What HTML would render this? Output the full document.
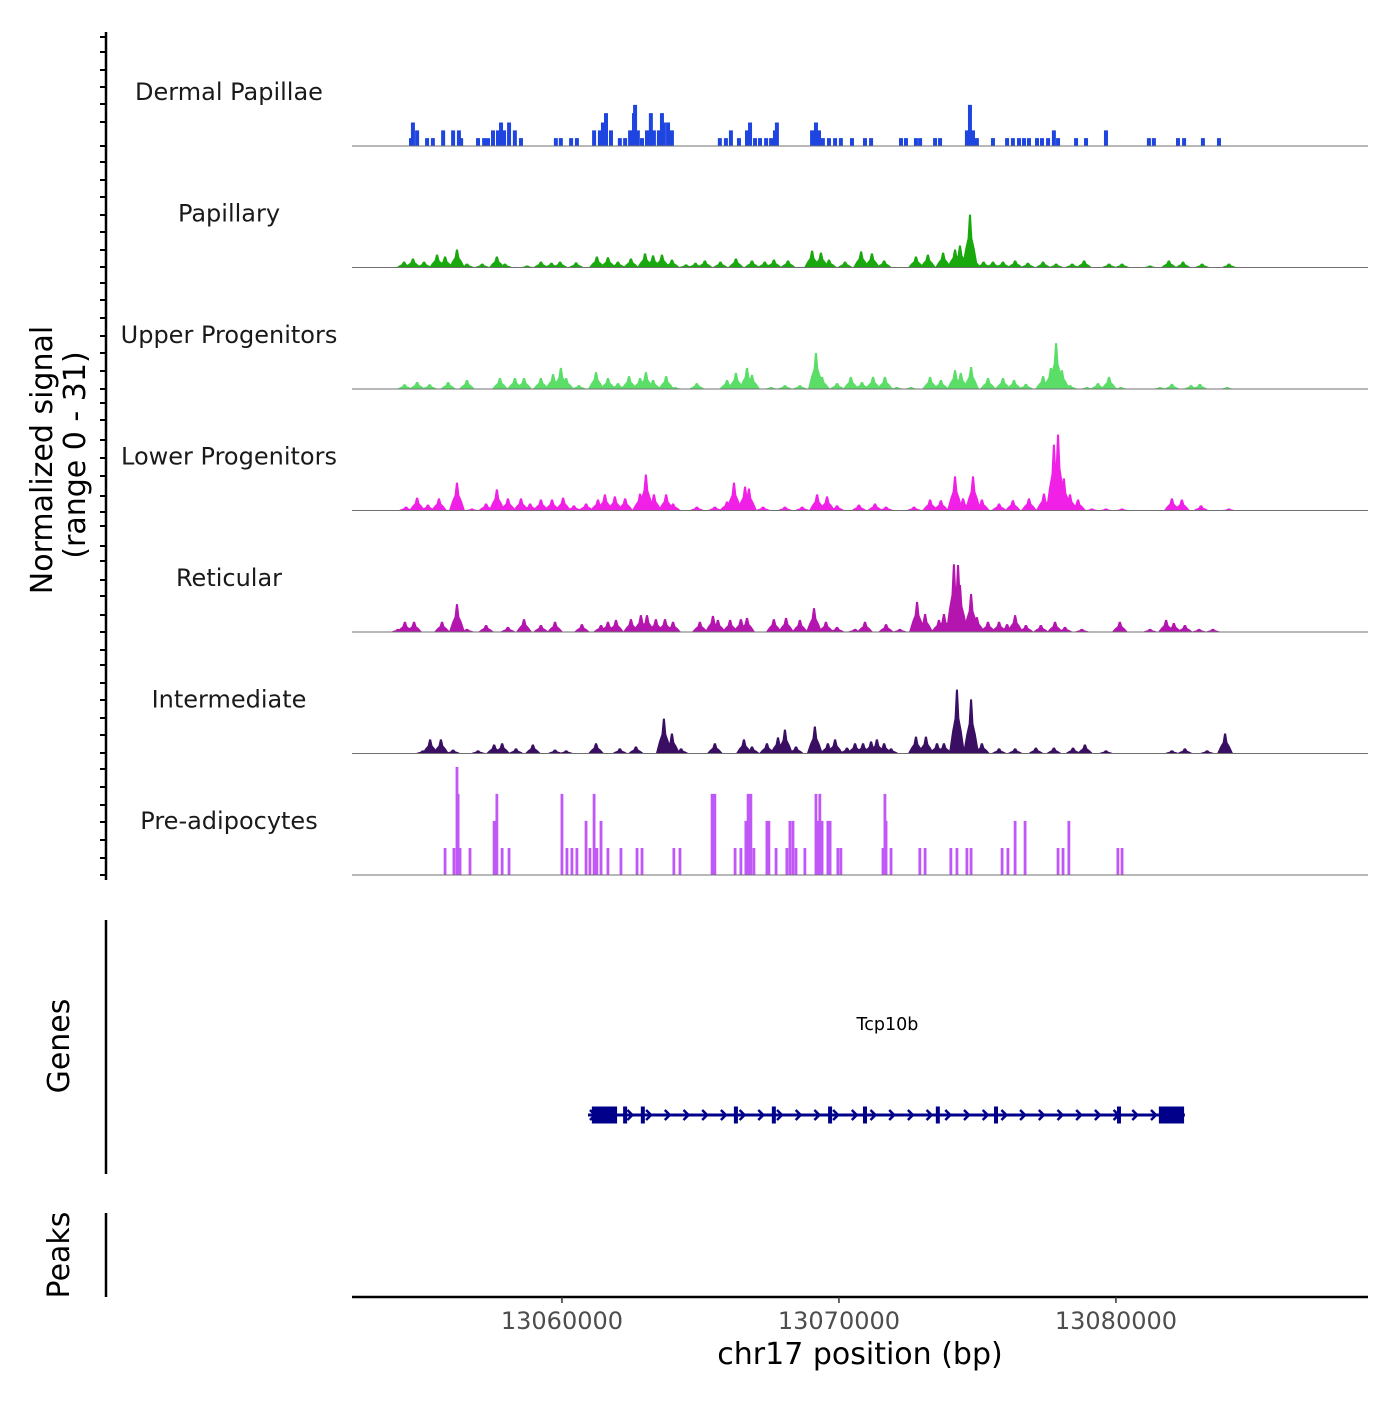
<!DOCTYPE html>
<html><head><meta charset="utf-8"><style>
html,body{margin:0;padding:0;background:#fff;}
svg text{font-family:"DejaVu Sans","Liberation Sans",sans-serif;}
</style></head><body>
<svg id="chart" width="1400" height="1400" viewBox="0 0 1400 1400" xmlns="http://www.w3.org/2000/svg">
<rect width="1400" height="1400" fill="#fff"/>
<g id="tracks"></g>
<g id="yaxis">
<line x1="106" y1="32" x2="106" y2="880" stroke="#000" stroke-width="2.5"/>
</g>
<text transform="translate(52,460) rotate(-90)" text-anchor="middle" font-size="30">Normalized signal</text>
<text transform="translate(85,455) rotate(-90)" text-anchor="middle" font-size="30">(range 0 - 31)</text>
<g>
<line x1="106" y1="920" x2="106" y2="1174" stroke="#000" stroke-width="2.5"/>
<text transform="translate(69,1046) rotate(-90)" text-anchor="middle" font-size="30">Genes</text>
<g id="gene"></g>
</g>
<g>
<line x1="106" y1="1213" x2="106" y2="1297" stroke="#000" stroke-width="2.5"/>
<text transform="translate(69,1255) rotate(-90)" text-anchor="middle" font-size="30">Peaks</text>
</g>
<g id="xaxis">
<line x1="352" y1="1297" x2="1368" y2="1297" stroke="#000" stroke-width="2.5"/>
</g>
<text x="860" y="1364" text-anchor="middle" font-size="30">chr17 position (bp)</text>
</svg>
<script>
// ---- data (positions in kb from region start, values in normalized signal units) ----
const regionStartBp = 13052420;
const regionEndBp = 13089100;
const xTicks = [13060000, 13070000, 13080000];
const trackNames = ["Dermal Papillae","Papillary","Upper Progenitors","Lower Progenitors","Reticular","Intermediate","Pre-adipocytes"];
const trackColors = ["#1f45e0","#1aa80f","#5ade68","#f020e6","#b415ae","#3a0e62","#c058f8"];
const signalMax = 31;

const dermalPos = [2.20,2.35,2.13,2.71,2.92,3.29,3.65,3.86,3.94,4.55,4.77,4.91,5.09,5.27,5.38,5.49,5.67,5.88,6.10,7.36,7.54,7.91,8.12,8.74,8.95,9.06,9.17,9.35,9.67,9.86,10.04,10.18,10.22,10.32,10.47,10.65,10.79,10.90,11.08,11.19,11.26,11.41,11.55,13.28,13.50,13.68,13.97,14.26,14.37,14.55,14.73,14.95,15.13,15.27,15.34,16.61,16.75,16.86,17.00,17.22,17.44,17.65,18.05,18.52,18.74,19.82,20.00,20.36,20.51,21.05,21.23,22.20,22.31,22.42,22.56,23.14,23.65,23.86,24.08,24.26,24.44,24.73,24.91,25.13,25.34,25.49,26.14,26.50,27.22,28.77,28.95,29.82,30.04,30.72,31.30];
const dermalVal = [6,4,2,2,2,4,4,4,2,2,2,2,4,4,6,4,6,4,2,2,2,2,2,4,4,6,8.4,4,2,2,4,8.4,10.5,4,2,4,8.4,4,4,8.4,6,6,4,2,2,4,2,4,6,2,2,2,2,4,6,4,6,4,2,2,2,2,2,2,2,2,2,2,2,2,2,4,10.5,4,2,2,2,2,2,2,2,2,2,2,4,2,2,2,4,2,2,2,2,2,2];

const papPos = [1.88,2.20,2.60,3.07,3.36,3.79,4.15,4.70,5.23,5.52,6.32,6.82,7.20,7.51,8.09,8.84,9.24,9.60,10.07,10.58,10.87,11.19,11.55,12.06,12.40,12.74,13.30,13.86,14.44,14.90,15.23,15.74,16.61,16.93,17.22,17.80,18.38,18.77,19.21,20.36,20.79,21.34,21.77,21.95,22.31,22.42,22.80,23.14,23.50,23.94,24.40,24.95,25.42,26.00,26.43,27.33,27.80,28.81,29.49,30.00,30.69,31.66];
const papVal = [1.5,2.3,1.5,3.3,2.8,4.6,1,1,2.8,1,0.5,1.5,1.2,1.5,1.3,2.8,2.6,1.5,2.3,3.6,3.1,3.3,2,0.8,1.2,1.8,1.5,2.3,1.8,1.5,2,1.8,4.3,3.8,2,1.5,4.1,3.6,1.8,2.8,3.3,3.8,4.6,5.6,13.5,3.1,1.5,1.5,1.5,1.8,1.2,1.5,1,1,1.8,1,1,0.5,1.8,1.5,1,1];

const upPos = [1.90,2.35,2.80,3.47,4.15,5.34,5.88,6.21,6.82,7.26,7.54,7.73,8.19,8.81,9.24,9.60,10.00,10.40,10.61,10.87,11.34,11.66,12.45,13.54,13.86,14.26,14.44,15.13,15.63,16.17,16.75,16.97,17.51,18.01,18.41,18.81,19.24,19.67,20.18,20.87,21.26,21.77,21.98,22.35,22.96,23.50,23.90,24.33,24.95,25.23,25.42,25.63,25.92,26.53,26.93,27.33,27.76,29.17,29.60,30.29,30.61,31.59];
const upVal = [1.2,1.8,1.2,1.8,2.3,2.8,2.8,2.8,2.8,3.8,5.4,2.8,1,4.3,2.8,1.5,3.3,2.8,4.3,2.3,3.3,0.5,1.5,2.3,4.1,5.4,3.6,0.5,1,1,9.2,3.1,1.5,3.1,1.8,3.1,3.1,0.5,0.5,3.1,2.3,4.8,4.1,5.6,2.8,2.8,2.3,1.3,3.3,5.4,11.7,4.8,1,0.5,1.5,3.1,0.5,0.5,1.3,1,1.3,0.5];

const lowPos = [1.95,2.35,2.74,3.14,3.79,4.33,4.84,5.23,5.63,6.10,6.43,6.82,7.22,7.62,8.01,8.45,8.88,9.13,9.49,9.86,10.40,10.61,10.90,11.34,11.59,12.45,13.10,13.54,13.79,14.19,14.33,14.84,15.63,16.25,16.79,17.15,17.51,18.30,18.88,19.28,20.29,20.87,21.26,21.77,22.06,22.42,22.74,23.36,23.86,24.44,24.98,25.34,25.49,25.70,25.92,26.21,26.71,27.22,27.80,29.60,29.96,30.65,31.66];
const lowVal = [1,3.3,1.5,3.1,7.1,0.5,1.8,5.4,3.1,3.1,1.8,2.8,2.8,3.3,1.3,1.8,2.8,4.1,3.6,3.1,4.3,9.2,4.1,4.1,1.8,1,1,2.3,7.1,6.1,5.6,1,1,1,4.1,3.6,1.3,1.5,1.8,1,1,2.8,2.6,8.7,3.1,8.7,2.8,1.8,2.6,3.1,4.3,16.8,19.4,8.2,4.1,2.8,0.5,0.5,0.5,3.1,2.8,1.3,0.5];

const retPos = [1.66,1.91,2.24,3.25,3.79,4.15,4.84,5.63,6.21,6.82,7.33,8.30,8.99,9.24,9.53,10.07,10.43,10.65,10.97,11.30,11.59,12.56,13.03,13.21,13.65,14.04,14.26,15.23,15.67,16.17,16.68,17.11,17.51,18.16,18.52,19.28,19.78,20.40,20.69,21.19,21.37,21.73,21.88,21.95,22.35,22.56,22.96,23.36,23.65,23.94,24.33,24.87,25.38,25.74,26.35,27.72,28.81,29.39,29.67,30.07,30.58,31.08];
const retVal = [0.8,2.6,2.6,2.6,7.1,0.8,1.8,1.3,3.3,1.8,2.6,2,1.8,2.6,3.1,3.3,4.3,4.3,3.3,3.3,2.6,2.6,4.1,3.1,3.1,3.3,3.6,3.3,3.6,3.1,6.1,2.6,1.3,0.8,2.6,2,0.8,7.7,4.6,3.1,4.6,17.3,17.1,12,9.7,3.8,2.6,2.6,2,4.3,1.8,1.8,2.6,1.3,0.8,2.6,0.8,3.1,2.3,1.8,0.8,0.8];

const intPos = [2.56,2.82,3.21,3.65,4.55,5.13,5.42,5.92,6.53,7.33,7.73,8.81,9.67,10.25,11.26,11.55,11.88,13.10,14.15,14.44,14.98,15.38,15.63,16.03,16.71,17.18,17.44,17.87,18.16,18.45,18.74,18.95,19.21,19.46,20.36,20.72,21.12,21.37,21.84,22.35,22.74,23.36,23.94,24.69,25.34,26.03,26.46,27.22,29.60,30.07,30.87,31.52];
const intVal = [0.8,3.6,3.6,1,0.8,2.3,2.6,1.3,2.3,1,0.8,2.6,1.3,1.8,8.9,5.1,1.3,2.6,3.6,1.8,2.6,4.1,6.1,1.8,6.9,2.6,3.6,1.5,2.6,2.6,3.1,3.6,2.6,1.3,4.3,4.3,2.6,2.6,16.3,13.8,2.6,1.3,1.3,1.5,1.5,1.5,2.3,0.8,0.8,1.3,0.8,5.1];

const prePos = [3.36,3.68,3.79,3.83,3.90,4.26,5.13,5.23,5.42,5.67,7.58,7.76,7.94,8.12,8.45,8.59,8.74,8.84,8.99,9.24,9.71,10.29,10.47,11.62,11.84,13.00,13.10,13.83,14.04,14.22,14.30,14.40,14.51,14.98,15.05,15.31,15.70,15.81,15.92,16.03,16.35,16.75,16.79,16.89,16.97,17.18,17.26,17.54,17.65,19.17,19.24,19.28,19.46,20.50,20.69,21.62,21.84,22.20,22.35,23.47,23.68,23.94,24.30,25.49,25.67,25.88,27.65,27.80];
const preVal = [6.9,6.9,27.6,20.7,6.9,6.9,13.8,20.7,6.9,6.9,20.7,6.9,6.9,6.9,13.8,6.9,20.7,6.9,13.8,6.9,6.9,6.9,6.9,6.9,6.9,20.7,20.7,6.9,6.9,13.8,20.7,20.7,6.9,13.8,13.8,6.9,6.9,13.8,13.8,6.9,6.9,20.7,13.8,20.7,13.8,13.8,13.8,6.9,6.9,6.9,20.7,13.8,6.9,6.9,6.9,6.9,6.9,6.9,6.9,6.9,6.9,13.8,13.8,6.9,6.9,13.8,6.9,6.9];

const geneName = "Tcp10b";
const geneStartKb = 8.52, geneEndKb = 30.07;
const bigExonStarts = [8.66, 29.13];
const bigExonEnds = [9.57, 30.04];
const smallExons = [9.86, 10.50, 13.86, 15.23, 17.26, 18.52, 21.15, 23.25, 27.69];

// ---- scales ----
const plotL = 352, plotR = 1368;
const spanKb = (regionEndBp - regionStartBp) / 1000;
function xKb(kb){ return plotL + kb / spanKb * (plotR - plotL); }
function xBp(bp){ return xKb((bp - regionStartBp) / 1000); }
const baseTop = 24.5, trackH = 121.5;
function baseY(i){ return baseTop + trackH * (i + 1); }
function yVal(i, v){ return baseY(i) - v / signalMax * trackH; }

const NS = "http://www.w3.org/2000/svg";
const tracksG = document.getElementById("tracks");
const allPos = [dermalPos, papPos, upPos, lowPos, retPos, intPos, prePos];
const allVal = [dermalVal, papVal, upVal, lowVal, retVal, intVal, preVal];
const styles = ["bar","smooth","smooth","smooth","smooth","smooth","bar"];

for (let i = 0; i < trackNames.length; i++) {
  const g = document.createElementNS(NS, "g");
  
  
  tracksG.appendChild(g);
  const lbl = document.createElementNS(NS, "text");
  
  
  lbl.setAttribute("x", 229); lbl.setAttribute("y", baseY(i) - 46);
  lbl.setAttribute("text-anchor", "middle"); lbl.setAttribute("font-size", "24");
  lbl.setAttribute("fill", "#1a1a1a");
  lbl.textContent = trackNames[i];
  g.appendChild(lbl);
  const b = baseY(i);
  let d = "";
  const P = allPos[i], V = allVal[i];
  for (let k = 0; k < P.length; k++) {
    const x = xKb(P[k]), y = yVal(i, V[k]);
    if (styles[i] === "bar") {
      const w = i === 0 ? 2 : 1.4;
      d += `M${x-w},${b}L${x-w},${y}L${x+w},${y}L${x+w},${b}Z`;
    } else {
      const w = 8;
      d += `M${x-w},${b}L${x-w*0.6},${b-(b-y)*0.35}L${x-w*0.3},${b-(b-y)*0.55}L${x-1},${y}L${x+1},${y}L${x+w*0.3},${b-(b-y)*0.55}L${x+w*0.6},${b-(b-y)*0.35}L${x+w},${b}Z`;
    }
  }
  const path = document.createElementNS(NS, "path");
  
  
  path.setAttribute("d", d); path.setAttribute("fill", trackColors[i]);
  g.appendChild(path);
  const bl = document.createElementNS(NS, "line");
  
  
  bl.setAttribute("x1", plotL); bl.setAttribute("x2", plotR);
  bl.setAttribute("y1", b); bl.setAttribute("y2", b);
  bl.setAttribute("stroke", "#707070"); bl.setAttribute("stroke-width", "1");
  g.appendChild(bl);
}

// y-axis ticks
const yTickPx = [37,52,70,87,104,122,146,162,180,197,215,232,250,267,283,300,318,336,353,371,389,403,420,440,458,476,496,512,526,546,561,580,596,615,632,650,665,683,700,718,735,753,769,787,805,822,840,858,875];
const yax = document.getElementById("yaxis");
for (const t of yTickPx) {
  const l = document.createElementNS(NS, "line");
  
  
  l.setAttribute("x1", 100); l.setAttribute("x2", 106);
  l.setAttribute("y1", t); l.setAttribute("y2", t);
  l.setAttribute("stroke", "#000"); l.setAttribute("stroke-width", "2");
  yax.appendChild(l);
}

// x-axis ticks
const xax = document.getElementById("xaxis");
for (const t of xTicks) {
  const x = xBp(t);
  const l = document.createElementNS(NS, "line");
  
  
  l.setAttribute("x1", x); l.setAttribute("x2", x);
  l.setAttribute("y1", 1297); l.setAttribute("y2", 1303);
  l.setAttribute("stroke", "#333"); l.setAttribute("stroke-width", "1.5");
  xax.appendChild(l);
  const tx = document.createElementNS(NS, "text");
  
  
  tx.setAttribute("x", x); tx.setAttribute("y", 1329);
  tx.setAttribute("text-anchor", "middle"); tx.setAttribute("font-size", "24");
  tx.setAttribute("fill", "#4d4d4d");
  tx.textContent = String(t);
  xax.appendChild(tx);
}

// gene model
const gg = document.getElementById("gene");
const gy = 1115, gc = "#00008b";
const gl = document.createElementNS(NS, "text");


gl.setAttribute("x", xKb((geneStartKb + geneEndKb) / 2) + 1); gl.setAttribute("y", 1030);
gl.setAttribute("text-anchor", "middle"); gl.setAttribute("font-size", "17.5");
gl.textContent = geneName;
gg.appendChild(gl);
const line = document.createElementNS(NS, "line");


line.setAttribute("x1", xKb(geneStartKb)); line.setAttribute("x2", xKb(geneEndKb));
line.setAttribute("y1", gy); line.setAttribute("y2", gy);
line.setAttribute("stroke", gc); line.setAttribute("stroke-width", "3");
gg.appendChild(line);
let ad = "";
for (let x = xKb(geneStartKb) + 2; x < xKb(geneEndKb) - 5; x += 18.7) {
  ad += `M${x},${gy-5}L${x+5},${gy}L${x},${gy+5}`;
}
const arr = document.createElementNS(NS, "path");


arr.setAttribute("d", ad); arr.setAttribute("fill", "none");
arr.setAttribute("stroke", gc); arr.setAttribute("stroke-width", "2.5");
gg.appendChild(arr);
for (let k = 0; k < bigExonStarts.length; k++) {
  const r = document.createElementNS(NS, "rect");
  
  
  r.setAttribute("x", xKb(bigExonStarts[k])); r.setAttribute("y", gy - 8.5);
  r.setAttribute("width", xKb(bigExonEnds[k]) - xKb(bigExonStarts[k])); r.setAttribute("height", 17);
  r.setAttribute("fill", gc);
  gg.appendChild(r);
}
for (const e of smallExons) {
  const r = document.createElementNS(NS, "rect");
  
  
  r.setAttribute("x", xKb(e) - 2); r.setAttribute("y", gy - 8.5);
  r.setAttribute("width", 4); r.setAttribute("height", 17);
  r.setAttribute("fill", gc);
  gg.appendChild(r);
}
</script>
</body></html>
